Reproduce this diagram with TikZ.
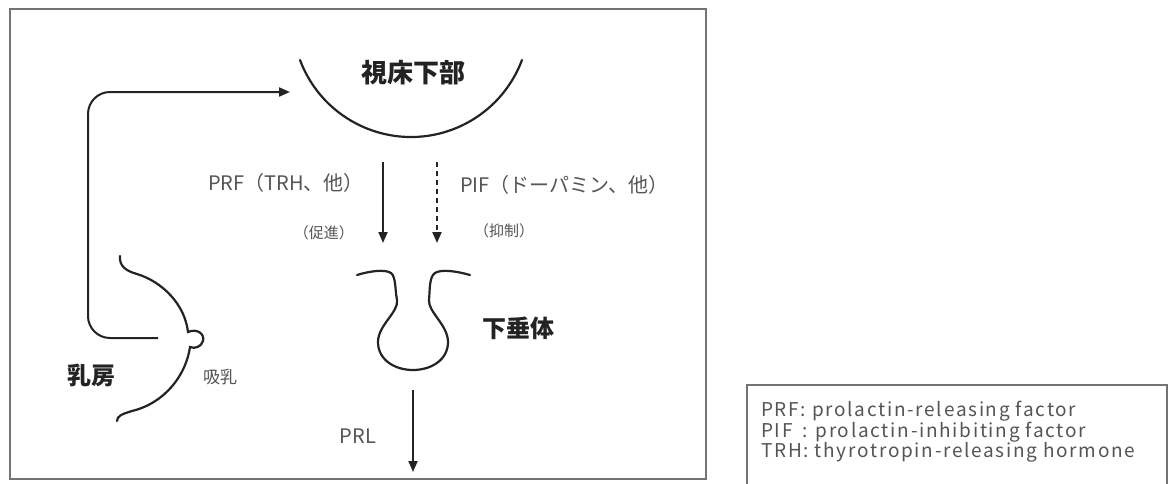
\documentclass[tikz,border=0pt]{standalone}
\usepackage{fontspec}
\setmainfont{Noto Sans CJK JP}
\usepackage{xcolor}
\definecolor{inkdark}{RGB}{35,35,35}
\definecolor{inkgray}{RGB}{85,85,85}
\definecolor{framegray}{RGB}{115,115,115}
\usetikzlibrary{arrows.meta}

\begin{document}
\begin{tikzpicture}[x=1pt, y=-1pt,
  organ/.style={draw=inkdark, line width=2.2pt, line cap=round},
  flow/.style={draw=inkdark, line width=2pt, -{Triangle[length=11pt,width=9pt]}},
  organname/.style={font=\fontsize{24}{28}\selectfont\bfseries, text=inkdark, inner sep=0pt},
  lbl/.style={font=\fontsize{20}{24}\selectfont, text=inkgray, inner sep=0pt},
  note/.style={font=\fontsize{15}{18}\selectfont, text=inkgray, inner sep=0pt}]

\useasboundingbox (0,0) rectangle (1172,483);
\fill[white] (0,0) rectangle (1172,483);

% frames
\draw[framegray, line width=2pt] (10,9) rectangle (706,479);
\draw[framegray, line width=1.5pt] (747,385) rectangle (1167,495);

% --- hypothalamus ---
\draw[organ] (300,60) arc[start angle=159.5, end angle=20.5, radius=118.5];
\node[organname, font=\fontsize{26}{30}\selectfont\bfseries] (hypo) at (413,73) {視床下部};

% --- pituitary ---
\draw[organ] (357,275) .. controls (370,271) and (385,269) .. (391,273)
  .. controls (396,277) and (395,290) .. (397,300)
  .. controls (399,312) and (378,325) .. (378,342)
  .. controls (378,360) and (395,370) .. (413,370)
  .. controls (431,370) and (448,360) .. (448,342)
  .. controls (448,325) and (428,312) .. (429,300)
  .. controls (430,290) and (429,277) .. (435,273)
  .. controls (441,269) and (456,271) .. (470,275);
\node[organname] (pit) at (518,328) {下垂体};

% --- breast ---
\draw[organ] (120,256) .. controls (119,266) and (126,271) .. (137,274)
  .. controls (163,282) and (185,305) .. (188,332)
  .. controls (197,328) and (205,334) .. (203,341)
  .. controls (201,347) and (195,349) .. (190,347)
  .. controls (186,375) and (165,403) .. (132,411)
  .. controls (122,414) and (117,416) .. (117,421);
\node[organname] (breast) at (91,375) {乳房};
\node[note, font=\fontsize{17}{20}\selectfont] (suckle) at (220,377) {吸乳};

% --- suckling reflex back to the hypothalamus ---
\coordinate (nip) at (158,338);
\coordinate (hypoin) at (290,92);
\draw[flow, rounded corners=22pt] (nip) -- ++(-70,0) |- (hypoin);

% --- PRF / PIF ---
\coordinate (prftop) at (383,162);
\coordinate (prfend) at (383,243);
\coordinate (piftop) at (437,162);
\coordinate (pifend) at (437,243);
\draw[flow] (prftop) -- (prfend);
\draw[flow, dash pattern=on 5pt off 4pt] (piftop) -- (pifend);

\node[lbl, anchor=east] (prf) at (364,183) {PRF（TRH、他）};
\node[lbl, anchor=west] (pif) at (460,185) {PIF（ドーパミン、他）};
\node[note, anchor=east] (promo) at (354,233) {（促進）};
\node[note, anchor=west] (inhib) at (474,231) {（抑制）};

% --- PRL ---
\coordinate (prltop) at (413,390);
\coordinate (prlend) at (413,472);
\draw[flow] (prltop) -- (prlend);
\node[lbl] (prl) at (358,436) {PRL};

% --- legend ---
\node[lbl, font=\fontsize{19}{20}\selectfont\addfontfeature{LetterSpace=9}, align=left, anchor=west] (legend) at (761,432)
  {PRF: prolactin-releasing factor\\
   \rlap{PIF}\hphantom{PRF}\,: prolactin-inhibiting factor\\
   TRH: thyrotropin-releasing hormone};

\end{tikzpicture}
\end{document}
